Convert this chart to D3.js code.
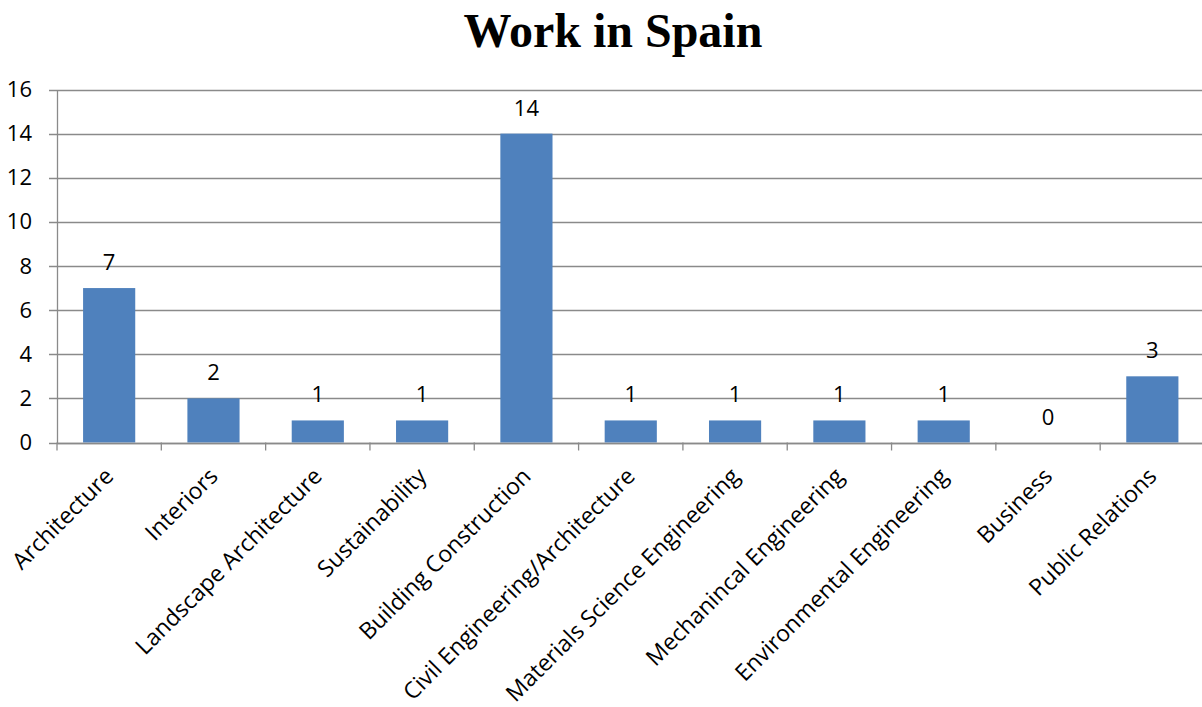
<!DOCTYPE html>
<html>
<head>
<meta charset="utf-8">
<script src="https://cdn.jsdelivr.net/npm/d3@7"></script>
<style>
  html, body { margin: 0; padding: 0; background: #fff; }
  svg { display: block; }
</style>
</head>
<body>
<svg id="chart" width="1202" height="707"></svg>
<script>
// Chart data
const categories = [
  "Architecture", "Interiors", "Landscape Architecture", "Sustainability",
  "Building Construction", "Civil Engineering/Architecture",
  "Materials Science Engineering", "Mechanincal Engineering",
  "Environmental Engineering", "Business", "Public Relations"
];
const counts = [7, 2, 1, 1, 14, 1, 1, 1, 1, 0, 3];
const yTicks = [0, 2, 4, 6, 8, 10, 12, 14, 16];
const chartTitle = "Work in Spain";

(function drawChart() {
  const svg = d3.select("#chart");
  const plot = { left: 57, right: 1204.5, top: 89.5, bottom: 442.5 };
  const labelFont = "'Open Sans', 'Liberation Sans', sans-serif";

  const x = d3.scaleBand().domain(categories).range([plot.left, plot.right]).paddingInner(0.5).paddingOuter(0.25);
  const y = d3.scaleLinear().domain([0, 16]).range([plot.bottom, plot.top]);

  // Title
  svg.append("text")
    .attr("x", 613).attr("y", 47)
    .attr("text-anchor", "middle")
    .style("font-family", "'Liberation Serif', 'Times New Roman', serif")
    .style("font-weight", "bold")
    .style("font-size", "48px")
    .text(chartTitle);

  // Horizontal gridlines
  svg.append("g")
    .selectAll("line")
    .data(yTicks)
    .join("line")
    .attr("x1", plot.left - 8).attr("x2", 1202)
    .attr("y1", d => Math.round(y(d)) + 0.5).attr("y2", d => Math.round(y(d)) + 0.5)
    .attr("stroke", "#8a8a8a").attr("stroke-width", 1.3);

  // Y axis
  const yAxis = svg.append("g")
    .attr("transform", `translate(${plot.left},0)`)
    .call(d3.axisLeft(y).tickValues(yTicks).tickSize(0).tickPadding(25));
  yAxis.select(".domain").attr("stroke", "#8a8a8a").attr("stroke-width", 1.3);
  yAxis.selectAll("text")
    .style("font-family", labelFont)
    .style("font-size", "22px")
    .attr("fill", "#000");

  // Bars
  svg.append("g")
    .selectAll("rect")
    .data(categories)
    .join("rect")
    .attr("x", d => x(d))
    .attr("width", x.bandwidth())
    .attr("y", (d, i) => y(counts[i]))
    .attr("height", (d, i) => y(0) - y(counts[i]))
    .attr("fill", "#4f81bd");

  // X axis baseline and ticks at category boundaries
  const bounds = d3.range(categories.length + 1).map(i => plot.left + i * x.step());
  svg.append("line")
    .attr("x1", plot.left).attr("x2", 1202)
    .attr("y1", Math.round(y(0)) + 0.5).attr("y2", Math.round(y(0)) + 0.5)
    .attr("stroke", "#8a8a8a").attr("stroke-width", 1.3);
  svg.append("g")
    .selectAll("line")
    .data(bounds)
    .join("line")
    .attr("x1", d => d).attr("x2", d => d)
    .attr("y1", y(0)).attr("y2", y(0) + 8)
    .attr("stroke", "#8a8a8a").attr("stroke-width", 1.3);

  // Value labels
  svg.append("g")
    .selectAll("text")
    .data(categories)
    .join("text")
    .attr("x", d => x(d) + x.bandwidth() / 2)
    .attr("y", (d, i) => y(counts[i]) - 18)
    .attr("text-anchor", "middle")
    .style("font-family", labelFont)
    .style("font-size", "22px")
    .text((d, i) => counts[i]);

  // Category labels, rotated
  svg.append("g")
    .selectAll("text")
    .data(categories)
    .join("text")
    .attr("transform", d => `translate(${x(d) + x.bandwidth() / 2},${472}) rotate(-45)`)
    .attr("text-anchor", "end")
    .attr("dy", "0.35em")
    .style("font-family", labelFont)
    .style("font-size", "23px")
    .text(d => d);
})();
</script>
</body>
</html>
